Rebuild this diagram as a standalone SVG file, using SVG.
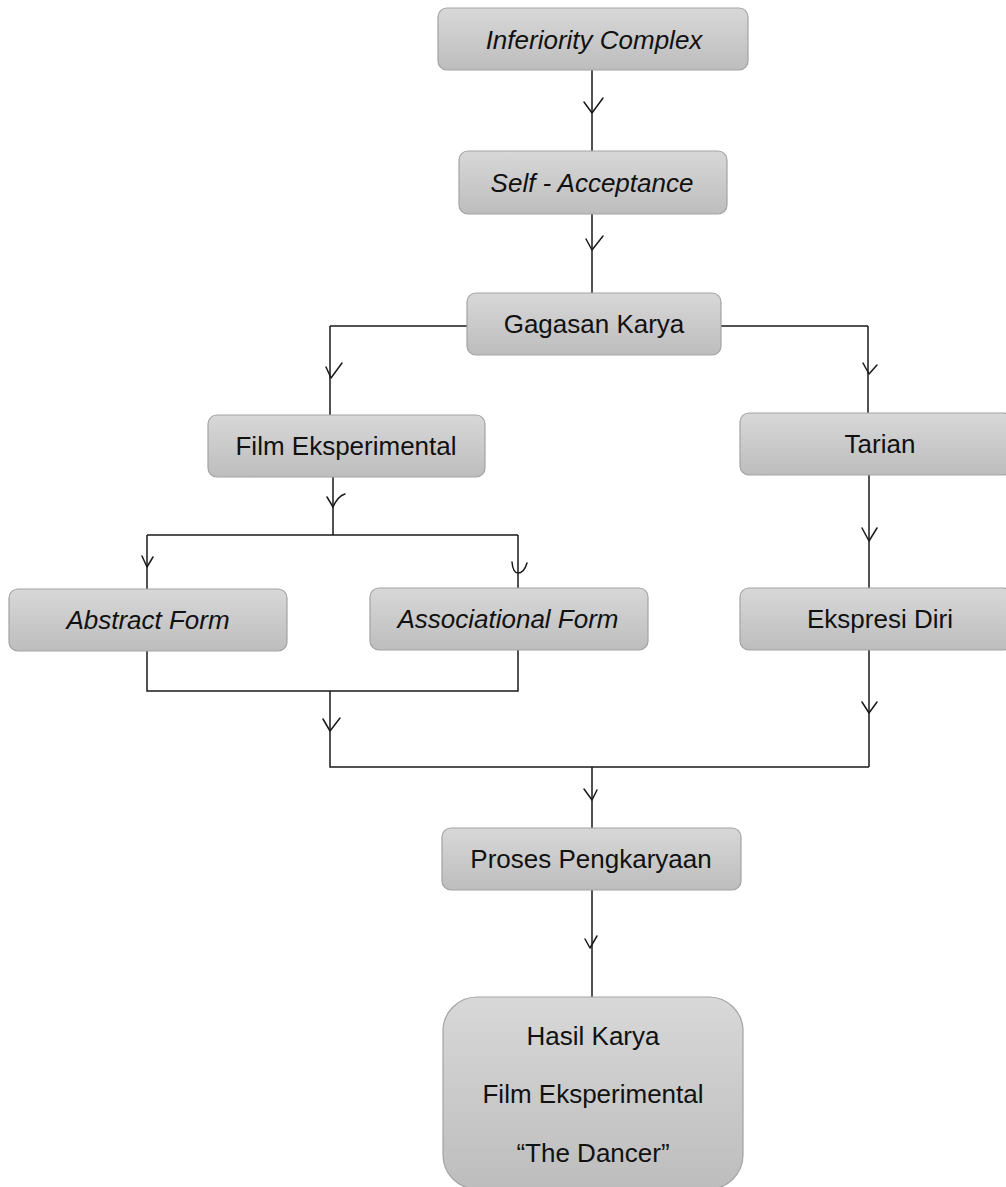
<svg xmlns="http://www.w3.org/2000/svg" width="1006" height="1187" viewBox="0 0 1006 1187">
<defs>
<linearGradient id="g" x1="0" y1="0" x2="0" y2="1">
<stop offset="0" stop-color="#d8d8d8"/>
<stop offset="1" stop-color="#bdbdbd"/>
</linearGradient>
<style>
.box{fill:url(#g);stroke:#a3a3a3;stroke-width:1.2}
.t{font-family:"Liberation Sans",Arial,sans-serif;font-size:26px;fill:#111;text-anchor:middle}
.i{font-style:italic}
.ln{fill:none;stroke:#1a1a1a;stroke-width:1.5}
.ar{fill:none;stroke:#1a1a1a;stroke-width:1.5;stroke-linejoin:round;stroke-linecap:round}
</style>
</defs>
<rect width="1006" height="1187" fill="#fff"/>
<g id="connectors">
<path class="ln" d="M592 70V151M592 214V293M330 326H868M330 326V415M868 326V413M333 477V535M147 535H518M147 535V589M518 535V588M147 651V691H518V650M330 691V767H869M869 475V588M869 650V767M592 767V828M592 890V997"/>
<polyline class="ar" points="584,102 592,113 603,98"/>
<polyline class="ar" points="586,239 592,250 603,236"/>
<polyline class="ar" points="326,367 331,378 342,363"/>
<polyline class="ar" points="863,363 869,374 877,365"/>
<path class="ar" d="M327,497 L333,507 Q338,496 345,494"/>
<polyline class="ar" points="142,556 147,567 153,557"/>
<path class="ar" d="M512,562 Q513,573 518,573 Q524,573 527,563"/>
<polyline class="ar" points="862,528 869,541 877,528"/>
<polyline class="ar" points="323,719 330,731 340,718"/>
<polyline class="ar" points="862,702 869,713 877,702"/>
<polyline class="ar" points="584,789 592,800 597,790"/>
<polyline class="ar" points="585,939 590,948 597,936"/>
</g>
<g id="n1"><rect class="box" x="438" y="8" width="310" height="62" rx="9"/><text class="t i" x="594" y="49" font-size="29">Inferiority Complex</text></g>
<g id="n2"><rect class="box" x="459" y="151" width="268" height="63" rx="9"/><text class="t i" x="592" y="192" font-size="25">Self - Acceptance</text></g>
<g id="n3"><rect class="box" x="467" y="293" width="254" height="62" rx="9"/><text class="t" x="594" y="333">Gagasan Karya</text></g>
<g id="n4"><rect class="box" x="208" y="415" width="277" height="62" rx="9"/><text class="t" x="346" y="455">Film Eksperimental</text></g>
<g id="n5"><rect class="box" x="740" y="413" width="272" height="62" rx="9"/><text class="t" x="880" y="453">Tarian</text></g>
<g id="n6"><rect class="box" x="9" y="589" width="278" height="62" rx="9"/><text class="t i" x="148" y="629">Abstract Form</text></g>
<g id="n7"><rect class="box" x="370" y="588" width="278" height="62" rx="9"/><text class="t i" x="508" y="628">Associational Form</text></g>
<g id="n8"><rect class="box" x="740" y="588" width="272" height="62" rx="9"/><text class="t" x="880" y="628">Ekspresi Diri</text></g>
<g id="n9"><rect class="box" x="442" y="828" width="299" height="62" rx="9"/><text class="t" x="591" y="868" font-size="25">Proses Pengkaryaan</text></g>
<g id="n10"><rect class="box" x="443" y="997" width="300" height="192" rx="34"/><text class="t" x="593" y="1045">Hasil Karya</text><text class="t" x="593" y="1103">Film Eksperimental</text><text class="t" x="593" y="1162">“The Dancer”</text></g>
</svg>
